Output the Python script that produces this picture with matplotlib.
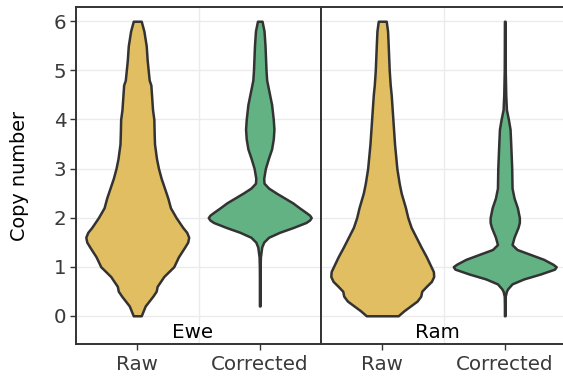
import numpy as np
import matplotlib
matplotlib.use("Agg")
import matplotlib.pyplot as plt

plt.rcParams["font.family"] = ["DejaVu Sans"]

# Categories and panels
panels = ["Ewe", "Ram"]
categories = ["Raw", "Corrected"]
fill_colors = {"Raw": "#E1BE62", "Corrected": "#62B283"}

# Density profiles (relative half-widths) along copy number
ewe_raw_y = [0.0, 0.2, 0.4, 0.5, 0.6, 0.8, 1.0, 1.2, 1.4, 1.5, 1.6, 1.7, 1.8, 2.0,
             2.2, 2.4, 2.6, 2.8, 3.0, 3.2, 3.5, 3.7, 4.0, 4.2, 4.5, 4.7, 4.8, 5.0,
             5.2, 5.5, 5.8, 6.0]
ewe_raw_d = [12, 24, 47, 57, 60, 80, 110, 124, 143, 152, 155, 149, 137, 117,
             100, 92, 82, 72, 64, 58, 52, 51, 50, 46, 43, 41, 36, 33,
             30, 27, 20, 12]

ewe_cor_y = [0.2, 0.4, 0.6, 0.8, 1.0, 1.2, 1.4, 1.5, 1.6, 1.7, 1.8, 1.9, 1.95,
             2.0, 2.05, 2.1, 2.2, 2.3, 2.4, 2.5, 2.6, 2.7, 2.8, 3.0, 3.2, 3.4,
             3.6, 3.8, 4.0, 4.3, 4.5, 4.8, 5.0, 5.5, 5.8, 6.0]
ewe_cor_d = [1, 1, 1, 1, 1.2, 2, 6, 12, 27, 60, 102, 140, 151,
             156, 151, 141, 120, 100, 75, 50, 27, 13, 12, 17, 26, 36,
             41, 43, 41, 36, 30, 21, 19, 16, 13, 7]

ram_raw_y = [0.0, 0.1, 0.2, 0.3, 0.4, 0.5, 0.6, 0.7, 0.8, 0.9, 1.0, 1.2, 1.4,
             1.6, 1.8, 2.0, 2.2, 2.5, 2.7, 3.0, 3.5, 4.0, 4.5, 4.7, 5.0, 5.5,
             5.8, 6.0]
ram_raw_d = [48, 65, 85, 105, 116, 119, 133, 148, 155, 154, 147, 133, 117,
             102, 87, 77, 70, 57, 51, 44, 37, 32, 27, 24, 21, 18,
             16, 12]

ram_cor_y = [0.0, 0.2, 0.4, 0.5, 0.55, 0.65, 0.75, 0.85, 0.95, 1.0, 1.05, 1.15,
             1.25, 1.35, 1.45, 1.6, 1.8, 1.9, 2.0, 2.2, 2.4, 2.6, 3.0, 3.5,
             3.8, 4.0, 4.2, 4.5, 5.0, 5.5, 6.0]
ram_cor_d = [1, 1, 1.5, 5, 9, 22, 57, 107, 150, 155, 145, 117,
             77, 37, 22, 28, 40, 44, 44, 38, 28, 22, 21, 18,
             16, 11, 5, 3, 1.5, 1.2, 1]

profiles = {
    ("Ewe", "Raw"): (ewe_raw_y, ewe_raw_d),
    ("Ewe", "Corrected"): (ewe_cor_y, ewe_cor_d),
    ("Ram", "Raw"): (ram_raw_y, ram_raw_d),
    ("Ram", "Corrected"): (ram_cor_y, ram_cor_d),
}

y_ticks = [0, 1, 2, 3, 4, 5, 6]

W, H = 563, 378
fig = plt.figure(figsize=(W / 100, H / 100), dpi=100)

edge = "#333333"
grid_col = "#EBEBEB"
tick_txt = "#3A3A3A"
px_w = 245

for i, panel in enumerate(panels):
    left = 76 if i == 0 else 321
    ax = fig.add_axes([left / W, (H - 344) / H, px_w / W, (344 - 7) / H])
    ax.set_xlim(0.5, 2.5)
    ax.set_ylim(-0.575, 6.29)

    for y in y_ticks:
        ax.axhline(y, color=grid_col, lw=1.0, zorder=0)
    ax.axvline(1.5, color=grid_col, lw=1.0, zorder=0)

    stats = []
    for cat in categories:
        ys, ds = profiles[(panel, cat)]
        ys = np.asarray(ys, float)
        ds = np.asarray(ds, float)
        stats.append(dict(coords=ys, vals=ds, mean=ys.mean(), median=np.median(ys),
                          min=ys.min(), max=ys.max()))
    parts = ax.violin(stats, positions=[1, 2], widths=0.84,
                      showmeans=False, showextrema=False, showmedians=False)
    for body, cat in zip(parts["bodies"], categories):
        body.set_facecolor(fill_colors[cat])
        body.set_edgecolor(edge)
        body.set_linewidth(1.8)
        body.set_joinstyle("round")
        body.set_alpha(1)
        body.set_zorder(2)

    ax.text(1.45, -0.34, panel, ha="center", va="center", fontsize=14.3, color="black")

    ax.set_xticks([1, 2])
    ax.set_xticklabels(categories)
    ax.tick_params(axis="x", length=4, width=1.0, color=edge, labelsize=14.3,
                   labelcolor=tick_txt, pad=4)
    ax.set_yticks(y_ticks)
    if i == 0:
        ax.set_yticklabels([str(t) for t in y_ticks])
        ax.tick_params(axis="y", length=4, width=1.0, color=edge, labelsize=14.3,
                       labelcolor=tick_txt, pad=3)
        ax.set_ylabel("Copy number", fontsize=13.9, color="black")
        ax.yaxis.set_label_coords(-0.19, 0.5)
    else:
        ax.tick_params(axis="y", left=False, labelleft=False)
    for sp in ax.spines.values():
        sp.set_color(edge)
        sp.set_linewidth(1.4)
    ax.set_facecolor("white")

fig.savefig("out.png", dpi=100)
